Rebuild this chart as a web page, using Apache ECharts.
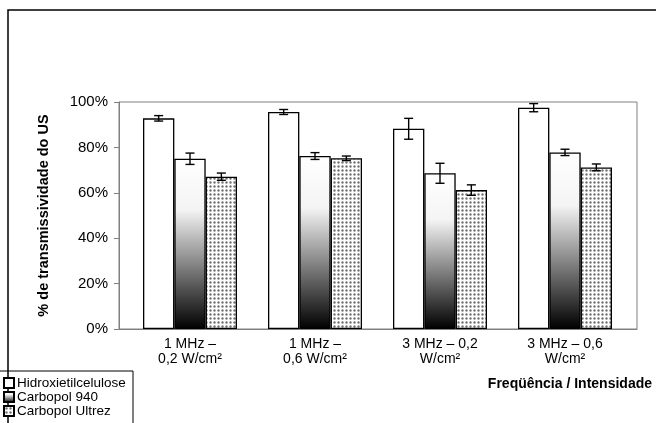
<!DOCTYPE html>
<html><head><meta charset="utf-8">
<script src="https://cdn.jsdelivr.net/npm/echarts@6/dist/echarts.min.js"></script>
<style>html,body{margin:0;padding:0;background:#fff}#c{width:656px;height:423px}</style>
</head><body><div id="c"></div>
<script>
const categories = ['1 MHz –\n0,2 W/cm²', '1 MHz –\n0,6 W/cm²', '3 MHz – 0,2\nW/cm²', '3 MHz – 0,6\nW/cm²'];
const seriesNames = ['Hidroxietilcelulose', 'Carbopol 940', 'Carbopol Ultrez'];
const hidroxi = [92.8, 95.6, 88.2, 97.5];
const carbopol940 = [75.0, 76.2, 68.6, 77.8];
const ultrez = [67.1, 75.2, 61.2, 71.2];
const hidroxiErr = [1.2, 1.1, 4.6, 1.8];
const carbopol940Err = [2.5, 1.5, 4.4, 1.4];
const ultrezErr = [1.6, 1.0, 2.3, 1.5];
const yTicks = [0, 20, 40, 60, 80, 100];

const FONT = 'Liberation Sans, Arial, sans-serif';
const GAP = 0.248;

// dotted pattern tile
const tile = document.createElement('canvas');
tile.width = 4; tile.height = 4;
(function(){
  const g = tile.getContext('2d');
  g.fillStyle = '#dcdcdc'; g.fillRect(0,0,4,4);
  g.fillStyle = '#ffffff'; g.fillRect(0,0,4,1); g.fillRect(0,0,1,4);
  g.fillStyle = '#6e6e6e'; g.fillRect(2,2,1,1);
  g.fillStyle = '#a0a0a0'; g.fillRect(1,2,1,1); g.fillRect(3,2,1,1); g.fillRect(2,1,1,1); g.fillRect(2,3,1,1);
})();

const fills = [
  '#ffffff',
  new echarts.graphic.LinearGradient(0,0,0,1,[{offset:0,color:'#ffffff'},{offset:0.3,color:'#f4f4f4'},{offset:1,color:'#000000'}]),
  {image: tile, repeat: 'repeat'}
];
const values = [hidroxi, carbopol940, ultrez];
const errs = [hidroxiErr, carbopol940Err, ultrezErr];

const chart = echarts.init(document.getElementById('c'), null, {renderer:'canvas'});

const barSeries = seriesNames.map((n, i) => ({
  name: n, type: 'bar', xAxisIndex: 1, yAxisIndex: 1,
  data: values[i],
  barGap: '0%', barCategoryGap: (GAP*100) + '%',
  itemStyle: {color: fills[i], borderColor: '#000', borderWidth: 1.3},
  emphasis: {disabled: true},
  z: 2
}));

const errSeries = seriesNames.map((n, i) => ({
  type: 'custom', xAxisIndex: 1, yAxisIndex: 1, z: 5, silent: true,
  data: values[i].map((v, k) => [k, v, errs[i][k]]),
  renderItem: function(params, api){
    const cat = api.value(0), v = api.value(1), e = api.value(2);
    const c = api.coord([cat, v]);
    const bw = api.size([1, 0])[0] * (1 - GAP) / 3;
    const x = c[0] + (i - 1) * bw;
    const yt = api.coord([cat, v + e])[1];
    const yb = api.coord([cat, v - e])[1];
    const st = {stroke: '#000', lineWidth: 1.4};
    return {type: 'group', children: [
      {type:'line', shape:{x1:x, y1:yt, x2:x, y2:yb}, style: st},
      {type:'line', shape:{x1:x-4.5, y1:yt, x2:x+4.5, y2:yt}, style: st},
      {type:'line', shape:{x1:x-4.5, y1:yb, x2:x+4.5, y2:yb}, style: st}
    ]};
  }
}));

chart.setOption({
  animation: false,
  backgroundColor: '#fff',
  textStyle: {fontFamily: FONT},
  grid: [
    {left: 119, top: 102, width: 518, height: 227, show: true, borderColor: '#808080', borderWidth: 1, backgroundColor: 'transparent'},
    {left: 127.5, top: 102, width: 500, height: 227}
  ],
  xAxis: [
    {type: 'category', gridIndex: 0, data: categories, axisLine: {lineStyle: {color: '#808080'}}, axisTick: {show: false}, axisLabel: {show: false}},
    {type: 'category', gridIndex: 1, data: categories, axisLine: {show: false}, axisTick: {show: false},
     axisLabel: {interval: 0, color: '#000', fontSize: 14, lineHeight: 15, margin: 8, fontFamily: FONT}}
  ],
  yAxis: [
    {type: 'value', gridIndex: 0, min: yTicks[0], max: yTicks[yTicks.length-1], interval: 20,
     axisLine: {show: true, lineStyle: {color: '#808080'}}, axisTick: {show: true, length: 5, lineStyle: {color: '#808080'}},
     splitLine: {show: false}, axisLabel: {formatter: '{value}%', color: '#000', fontSize: 15, margin: 11, fontFamily: FONT},
     name: '% de transmissividade do US', nameLocation: 'middle', nameGap: 68,
     nameTextStyle: {fontWeight: 'bold', fontSize: 14.5, color: '#000', fontFamily: FONT}},
    {type: 'value', gridIndex: 1, min: yTicks[0], max: yTicks[yTicks.length-1], interval: 20, show: false}
  ],
  legend: {
    orient: 'vertical', left: 3, top: 376, height: 100, itemWidth: 10, itemHeight: 10, itemGap: 0,
    padding: 0, selectedMode: false,
    textStyle: {fontSize: 13.5, lineHeight: 13.5, color: '#000', fontFamily: FONT, padding: [0,0,0,-2]},
    data: seriesNames.map(n => ({name: n, icon: 'rect'}))
  },
  graphic: [
    {type: 'polyline', shape: {points: [[8, 430], [8, 10], [660, 10]]}, style: {stroke: '#000', lineWidth: 1.5, fill: null}},
    {type: 'polyline', shape: {points: [[0, 371], [133, 371], [133, 430]]}, style: {stroke: '#000', lineWidth: 1, fill: null}},
    {type: 'text', right: 4, top: 377, style: {text: 'Freqüência / Intensidade', fontSize: 14, fontWeight: 'bold', fill: '#000', fontFamily: FONT}}
  ],
  series: barSeries.concat(errSeries)
});
</script></body></html>
